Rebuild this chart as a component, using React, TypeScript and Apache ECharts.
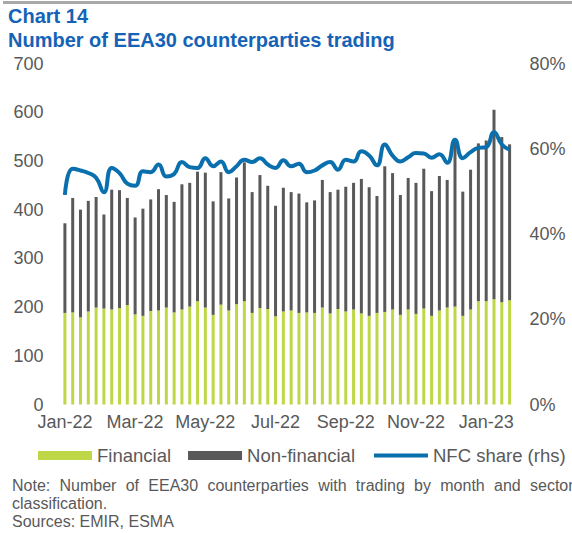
import React, { useEffect, useRef } from "react";
import * as echarts from "echarts";

const tickLabels = ["Jan-22", "Mar-22", "May-22", "Jul-22", "Sep-22", "Nov-22", "Jan-23"];
const labelStep = 9;

const financial = [
  188, 189, 179, 191, 199, 197, 195, 198, 204, 185, 182, 192, 193, 199, 189, 195, 201, 212, 199, 184,
  205, 193, 206, 212, 188, 198, 196, 181, 191, 193, 188, 189, 188, 199, 187, 196, 191, 195, 187, 182,
  188, 190, 195, 184, 195, 186, 197, 182, 193, 199, 201, 182, 195, 212, 212, 216, 210, 214,
];

const nonFinancial = [
  184, 235, 221, 227, 227, 193, 246, 242, 220, 199, 220, 229, 249, 231, 227, 257, 254, 266, 277, 233,
  272, 230, 260, 285, 248, 273, 253, 227, 254, 243, 245, 226, 231, 262, 249, 245, 256, 260, 276, 264,
  240, 299, 280, 246, 270, 269, 287, 256, 276, 262, 337, 255, 287, 324, 330, 389, 339, 320,
];

const nfcShare = [
  49.2, 55.3, 54.9, 54.3, 53.2, 49.8, 55.5, 54.3, 51.8, 51.3, 54.7, 54.5, 56.3, 53.5, 54.1, 56.9, 55.7, 55.5, 57.8, 55.9,
  57.0, 54.5, 55.9, 57.4, 56.9, 57.8, 56.3, 55.5, 57.3, 55.9, 56.5, 54.5, 54.9, 56.1, 56.9, 55.1, 57.4, 57.0, 59.4, 58.4,
  56.1, 61.0, 58.4, 57.0, 58.0, 59.0, 58.9, 57.9, 58.7, 56.7, 62.1, 57.8, 59.2, 60.2, 60.4, 63.9, 61.0, 59.8,
];

const categories = financial.map((_, i) => "W" + (i + 1));

const noteWords = ["Note:", "Number", "of", "EEA30", "counterparties", "with", "trading", "by", "month", "and", "sector"];

const FONT = "'Liberation Sans', Arial, Helvetica, sans-serif";
const GREEN = "#BDD747";
const GREY = "#595959";
const BLUE = "#0A6FAD";
const TITLE = "#1563B7";
const TEXT = "#595959";

export default function App() {
  const ref = useRef<HTMLDivElement>(null);

  useEffect(() => {
    if (!ref.current) return;
    const chart = echarts.init(ref.current, null, { renderer: "svg" });

    // justified note line: word positions
    const canvas = document.createElement("canvas");
    const ctx = canvas.getContext("2d")!;
    ctx.font = `16px ${FONT}`;
    const widths = noteWords.map((w) => ctx.measureText(w).width);
    const startX = 12;
    const lastStart = 530;
    const sumFirst = widths.slice(0, -1).reduce((a, b) => a + b, 0);
    const gap = (lastStart - startX - sumFirst) / (noteWords.length - 1);
    let cx = startX;
    const noteEls: any[] = noteWords.map((w, i) => {
      const el = {
        type: "text",
        x: cx,
        y: 485,
        style: { text: w, font: `16px ${FONT}`, fill: TEXT, textVerticalAlign: "middle", textAlign: "left" },
      };
      cx += widths[i] + gap;
      return el;
    });

    chart.setOption({
      animation: false,
      textStyle: { fontFamily: FONT },
      grid: { left: 61, right: 58.5, top: 63.5, bottom: 128.5, containLabel: false },
      legend: {
        left: 38,
        top: 446,
        width: 534,
        padding: 0,
        itemWidth: 54,
        itemHeight: 9,
        itemGap: 17,
        textStyle: { fontSize: 18.5, color: TEXT, fontFamily: FONT },
        data: [
          { name: "Financial", icon: "rect" },
          { name: "Non-financial", icon: "rect" },
          { name: "NFC share (rhs)", itemStyle: { opacity: 0 }, lineStyle: { width: 4, color: BLUE } },
        ],
      },
      xAxis: {
        type: "category",
        data: categories,
        boundaryGap: true,
        axisLine: { show: false },
        axisTick: { show: false },
        axisLabel: {
          interval: labelStep - 1,
          formatter: (_v: string, idx: number) => tickLabels[Math.round(idx / labelStep)] ?? "",
          fontSize: 18,
          color: TEXT,
          margin: 8,
          fontFamily: FONT,
        },
      },
      yAxis: [
        {
          type: "value",
          min: 0,
          max: 700,
          interval: 100,
          splitLine: { show: false },
          axisLine: { show: false },
          axisTick: { show: false },
          axisLabel: { fontSize: 18, color: TEXT, margin: 17.5, fontFamily: FONT },
        },
        {
          type: "value",
          min: 0,
          max: 80,
          interval: 20,
          position: "right",
          splitLine: { show: false },
          axisLine: { show: false },
          axisTick: { show: false },
          axisLabel: { fontSize: 18, color: TEXT, margin: 16, formatter: "{value}%", fontFamily: FONT },
        },
      ],
      series: [
        {
          name: "Financial",
          type: "bar",
          stack: "total",
          data: financial,
          barWidth: 3,
          itemStyle: { color: GREEN },
        },
        {
          name: "Non-financial",
          type: "bar",
          stack: "total",
          data: nonFinancial,
          barWidth: 3,
          itemStyle: { color: GREY },
        },
        {
          name: "NFC share (rhs)",
          type: "line",
          yAxisIndex: 1,
          data: nfcShare,
          smooth: 0.5,
          symbol: "none",
          z: 5,
          lineStyle: { color: BLUE, width: 4 },
          itemStyle: { color: BLUE },
        },
      ],
      graphic: [
        { type: "rect", shape: { x: 3, y: 1, width: 569, height: 3 }, style: { fill: "#A9A9A9" } },
        {
          type: "text",
          x: 8,
          y: 16,
          style: { text: "Chart 14", font: `bold 20px ${FONT}`, fill: TITLE, textVerticalAlign: "middle" },
        },
        {
          type: "text",
          x: 8,
          y: 39.5,
          style: {
            text: "Number of EEA30 counterparties trading",
            font: `bold 20px ${FONT}`,
            fill: TITLE,
            textVerticalAlign: "middle",
          },
        },
        ...noteEls,
        {
          type: "text",
          x: 12,
          y: 503,
          style: { text: "classification.", font: `16px ${FONT}`, fill: TEXT, textVerticalAlign: "middle" },
        },
        {
          type: "text",
          x: 12,
          y: 521.5,
          style: { text: "Sources: EMIR, ESMA", font: `16px ${FONT}`, fill: TEXT, textVerticalAlign: "middle" },
        },
      ],
    });

    return () => chart.dispose();
  }, []);

  return (
    <div
      ref={ref}
      style={{ position: "fixed", left: 0, top: 0, width: 572, height: 533, background: "#fff" }}
    />
  );
}
